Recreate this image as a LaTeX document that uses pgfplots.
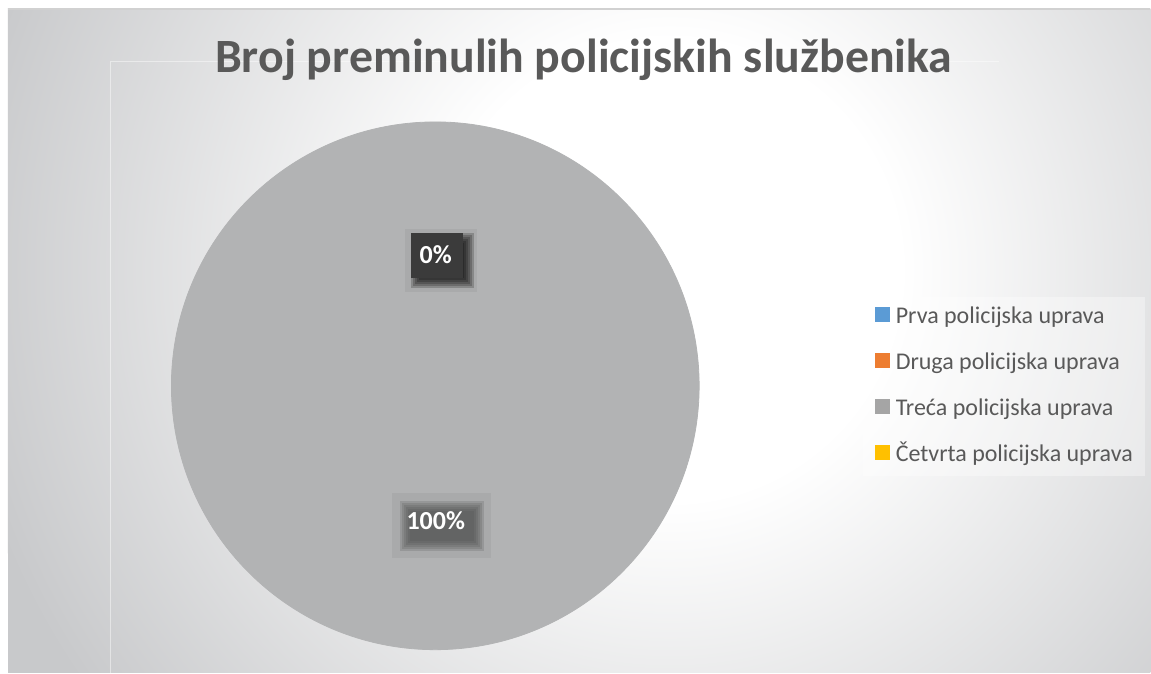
\documentclass[border=0pt]{standalone}
\usepackage{pgfplots}
\pgfplotsset{compat=1.18}
\usepackage{fontspec}
\setmainfont{Carlito}
\definecolor{pblue}{HTML}{5B9BD5}
\definecolor{porange}{HTML}{ED7D31}
\definecolor{pgray}{HTML}{A5A5A5}
\definecolor{pyellow}{HTML}{FFC000}
\definecolor{piefill}{HTML}{B2B3B4}
\definecolor{txt}{HTML}{595959}
\definecolor{bgout}{HTML}{C8C9CB}
\definecolor{lblbox}{HTML}{A9AAAB}
\pgfdeclareradialshading{bgshade}{\pgfpoint{0bp}{0bp}}{color(0bp)=(white); color(8bp)=(white); color(25bp)=(bgout); color(50bp)=(bgout)}
% soft (blurred) box: x1 y1 x2 y2 colour
\newcommand\blurbox[5]{%
  \fill[#5, opacity=0.2] ({#1-5},{#2-5}) rectangle ({#3+5},{#4+5});
  \fill[#5, opacity=0.2] ({#1-3},{#2-3}) rectangle ({#3+3},{#4+3});
  \fill[#5, opacity=0.2] ({#1-1},{#2-1}) rectangle ({#3+1},{#4+1});
  \fill[#5, opacity=0.2] ({#1+1},{#2+1}) rectangle ({#3-1},{#4-1});
  \fill[#5, opacity=0.2] ({#1+3},{#2+3}) rectangle ({#3-3},{#4-3});
  \fill[#5, opacity=0.2] ({#1+5},{#2+5}) rectangle ({#3-5},{#4-5});
}
\begin{document}
\begin{tikzpicture}
% background (pixel coordinates, y downwards)
\begin{scope}[shift={(0pt,336.5pt)},x=0.5pt,y=-0.5pt]
  \fill[white] (0,0) rectangle (1151,673);
  \begin{scope}
    \clip (8,9) rectangle (1151,673);
    \fill[bgout] (8,9) rectangle (1151,673);
    \shade[shading=bgshade] (670,270) circle (720);
  \end{scope}
  \draw[black!18, line width=0.6pt] (8,9) -- (1151,9);
  \draw[white, opacity=0.45, line width=0.5pt] (111,673) -- (111,62) -- (1000,62);
\end{scope}
\begin{axis}[name=ax, at={(0,0)}, anchor=south west, scale only axis,
  width=575.5pt, height=336.5pt,
  xmin=0, xmax=1151, ymin=0, ymax=673, y dir=reverse,
  hide axis, clip=false,
  legend style={at={(0.7498,0.5587)}, anchor=north west, draw=none,
    fill=white, fill opacity=0.35, text opacity=1, text=txt,
    font=\fontsize{12}{14}\selectfont,
    inner xsep=6pt, inner ysep=5pt, row sep=12.5pt,
    nodes={inner sep=0pt, text height=8pt, text depth=2.5pt},
    /tikz/every odd column/.append style={column sep=3pt}},
  legend cell align=left,
  legend image code/.code={\fill[#1, fill opacity=1] (0pt,-2pt) rectangle (7pt,5pt);},
]
% share of deceased officers: Treća policijska uprava = 100 %
\addplot[only marks, mark=*, mark size=132pt, color=piefill, forget plot] coordinates {(435.5,386)};
\addlegendimage{pblue}
\addlegendimage{porange}
\addlegendimage{pgray}
\addlegendimage{pyellow}
\legend{Prva policijska uprava, Druga policijska uprava, Treća policijska uprava, Četvrta policijska uprava}
\end{axis}
\begin{scope}[shift={(0pt,336.5pt)},x=0.5pt,y=-0.5pt]
  \node[anchor=base, text=txt, font=\fontsize{23.9}{28}\selectfont\bfseries, inner sep=0pt] at (584,73) {Broj preminulih policijskih službenika};
  % 0% label
  \fill[lblbox] (405,229) rectangle (477,292);
  \blurbox{416}{238}{469}{283}{black}
  \fill[black!77] (411,233) rectangle (463,278);
  \node[anchor=base, text=white, font=\fontsize{13}{15}\selectfont\bfseries, inner sep=0pt] at (436,264) {0\%};
  % 100% label
  \fill[lblbox] (392,493) rectangle (491,558);
  \blurbox{405}{506}{479}{546}{black!70}
  \node[anchor=base, text=white, font=\fontsize{13}{15}\selectfont\bfseries, inner sep=0pt] at (436,530) {100\%};
\end{scope}
\end{tikzpicture}
\end{document}
